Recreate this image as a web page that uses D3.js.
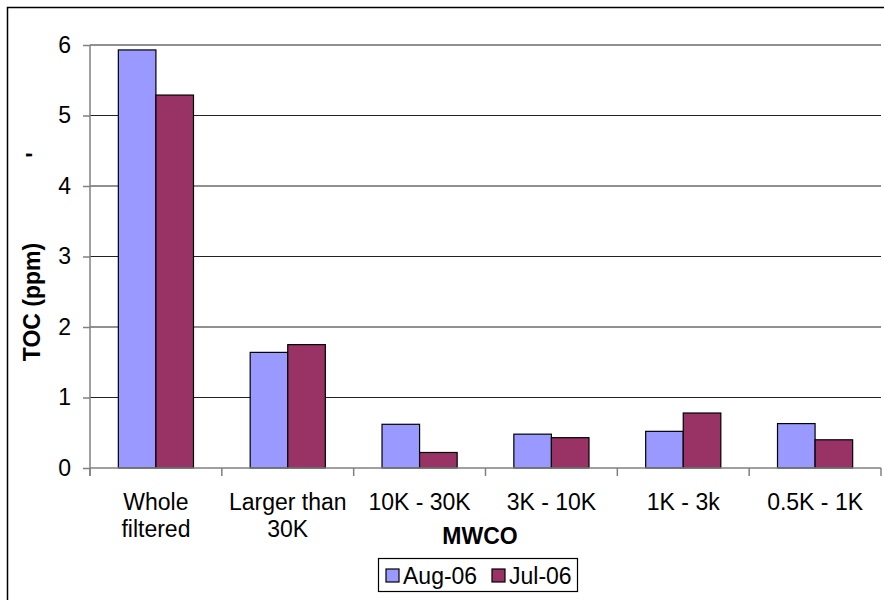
<!DOCTYPE html>
<html>
  <head>
    <script src="https://d3js.org/d3.v7.min.js"></script>
    <style>
      body { margin: 0; background: #fff; }
      text { font-family: "Liberation Sans", Arial, sans-serif; fill: #000; }
    </style>
  </head>
  <body>
    <script>
    // data
    var categories = [["Whole", "filtered"], ["Larger than", "30K"], ["10K - 30K"], ["3K - 10K"], ["1K - 3k"], ["0.5K - 1K"]];
    var seriesNames = ["Aug-06", "Jul-06"];
    var aug06 = [5.93, 1.64, 0.62, 0.48, 0.52, 0.63];
    var jul06 = [5.29, 1.75, 0.22, 0.43, 0.78, 0.40];
    var yTicks = [0, 1, 2, 3, 4, 5, 6];
    var colors = ["#9999ff", "#993366"];

    var w = 884, h = 600;
    var plotLeft = 90, plotRight = 881, plotTop = 45, plotBottom = 468;
    var fs = 23;

    var svg = d3.select("body").append("svg")
      .attr("width", w)
      .attr("height", h);

    // outer chart frame (runs off the right and bottom of the picture)
    svg.append("rect")
      .attr("x", 7.5).attr("y", 7.5)
      .attr("width", 920).attr("height", 640)
      .attr("fill", "none").attr("stroke", "#000").attr("stroke-width", 1.5);

    var x = d3.scaleBand()
      .domain(d3.range(categories.length))
      .range([plotLeft, plotRight])
      .paddingInner(0.43).paddingOuter(0.215);

    var x1 = d3.scaleBand()
      .domain([0, 1])
      .range([0, x.bandwidth()]);

    var y = d3.scaleLinear()
      .domain([0, 6])
      .range([plotBottom, plotTop]);

    // gridlines
    svg.selectAll("line.grid")
      .data(yTicks.filter(function(d) { return d > 0; }))
      .enter().append("line")
      .attr("class", "grid")
      .attr("x1", plotLeft).attr("x2", plotRight)
      .attr("y1", function(d) { return y(d); })
      .attr("y2", function(d) { return y(d); })
      .attr("stroke", "#222").attr("stroke-width", 1.2);

    // bars
    var rows = categories.map(function(c, i) { return [aug06[i], jul06[i]]; });
    var groups = svg.selectAll("g.cat")
      .data(rows)
      .enter().append("g")
      .attr("transform", function(d, i) { return "translate(" + x(i) + ",0)"; });

    groups.selectAll("rect")
      .data(function(d) { return d; })
      .enter().append("rect")
      .attr("x", function(d, j) { return x1(j); })
      .attr("y", function(d) { return y(d); })
      .attr("width", x1.bandwidth())
      .attr("height", function(d) { return y(0) - y(d); })
      .attr("fill", function(d, j) { return colors[j]; })
      .attr("stroke", "#000").attr("stroke-width", 1.2);

    // y axis
    var yAxis = svg.append("g")
      .attr("transform", "translate(" + plotLeft + ",0)")
      .call(d3.axisLeft(y).tickValues(yTicks).tickFormat(d3.format("d")).tickSize(7).tickPadding(12));
    yAxis.selectAll("path, line").attr("stroke", "#808080").attr("stroke-width", 1.5);
    yAxis.select(".domain").attr("d", "M0," + (plotBottom + 8) + "V" + plotTop);
    yAxis.selectAll("text").attr("font-size", fs).attr("font-family", "Liberation Sans, Arial, sans-serif");

    // x axis: ticks at band boundaries
    var step = (plotRight - plotLeft) / categories.length;
    var xAxis = svg.append("g").attr("transform", "translate(0," + plotBottom + ")");
    xAxis.append("line")
      .attr("x1", plotLeft).attr("x2", plotRight)
      .attr("stroke", "#808080").attr("stroke-width", 1.5);
    xAxis.selectAll("line.tick")
      .data(d3.range(categories.length + 1))
      .enter().append("line")
      .attr("class", "tick")
      .attr("x1", function(d) { return plotLeft + d * step; })
      .attr("x2", function(d) { return plotLeft + d * step; })
      .attr("y1", 0).attr("y2", 8)
      .attr("stroke", "#808080").attr("stroke-width", 1.5);

    // category labels
    svg.selectAll("text.cat")
      .data(categories)
      .enter().append("text")
      .attr("class", "cat")
      .attr("text-anchor", "middle")
      .attr("font-size", fs)
      .attr("y", 510)
      .each(function(d, i) {
        var t = d3.select(this);
        d.forEach(function(line, k) {
          t.append("tspan")
            .attr("x", x(i) + x.bandwidth() / 2)
            .attr("dy", k === 0 ? 0 : 27)
            .text(line);
        });
      });

    // axis titles
    svg.append("text")
      .attr("x", 480).attr("y", 544)
      .attr("text-anchor", "middle")
      .attr("font-size", fs).attr("font-weight", "bold")
      .text("MWCO");

    svg.append("text")
      .attr("transform", "translate(40,302) rotate(-90)")
      .attr("text-anchor", "middle")
      .attr("font-size", fs).attr("font-weight", "bold")
      .text("TOC (ppm)");

    svg.append("text")
      .attr("transform", "translate(43,155) rotate(-90)")
      .attr("text-anchor", "middle")
      .attr("font-size", fs).attr("font-weight", "bold")
      .text("'");

    // legend
    var legend = svg.append("g").attr("transform", "translate(378,558)");
    legend.append("rect")
      .attr("x", 0.5).attr("y", 0.5).attr("width", 199).attr("height", 33)
      .attr("fill", "#fff").attr("stroke", "#000").attr("stroke-width", 1.2);
    var items = legend.selectAll("g.item")
      .data(seriesNames)
      .enter().append("g")
      .attr("transform", function(d, i) { return "translate(" + (i === 0 ? 8 : 114) + ",0)"; });
    items.append("rect")
      .attr("x", 0).attr("y", 11).attr("width", 13).attr("height", 13)
      .attr("fill", function(d, i) { return colors[i]; })
      .attr("stroke", "#000").attr("stroke-width", 1.2);
    items.append("text")
      .attr("x", 17).attr("y", 26)
      .attr("font-size", fs)
      .text(function(d) { return d; });
    </script>
  </body>
</html>
